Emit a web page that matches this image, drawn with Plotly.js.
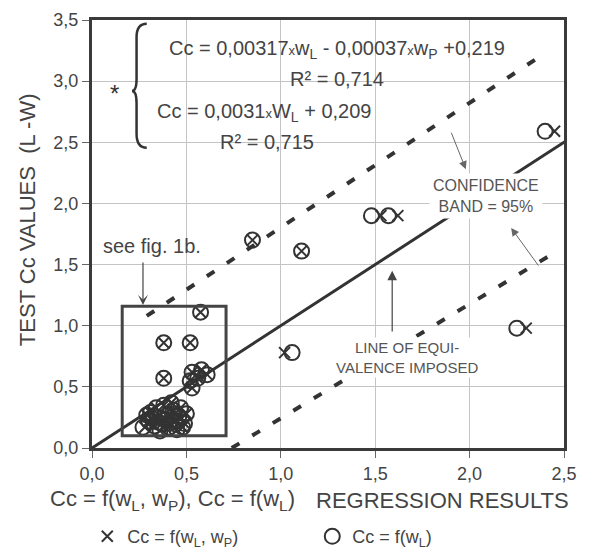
<!DOCTYPE html>
<html>
<head>
<meta charset="utf-8">
<script src="https://cdn.plot.ly/plotly-3.0.1.min.js"></script>
<style>html,body{margin:0;padding:0;background:#fff;}#chart{width:605px;height:554px;}</style>
</head>
<body>
<div id="chart"></div>
<script>
// ---- data ----
// Open circles: Cc = f(wL)
const circleX = [0.575, 0.38, 0.52, 0.38, 0.53, 0.58, 0.61, 0.52, 0.56, 0.53,
  0.27, 0.30, 0.31, 0.33, 0.34, 0.35, 0.37, 0.38, 0.40, 0.41, 0.43, 0.44, 0.46, 0.47, 0.49, 0.50, 0.36, 0.42, 0.45, 0.32,
  0.39, 0.44, 0.48, 0.35, 0.41, 0.29,
  0.85, 1.11, 1.48, 1.57, 1.06, 2.40, 2.25];
const circleY = [1.11, 0.86, 0.86, 0.57, 0.62, 0.64, 0.60, 0.55, 0.57, 0.49,
  0.17, 0.22, 0.29, 0.18, 0.33, 0.25, 0.20, 0.35, 0.27, 0.17, 0.31, 0.22, 0.26, 0.33, 0.20, 0.28, 0.14, 0.37, 0.15, 0.24,
  0.23, 0.28, 0.17, 0.21, 0.20, 0.27,
  1.70, 1.61, 1.90, 1.90, 0.78, 2.59, 0.98];
// Crosses: Cc = f(wL, wP)
const crossX = [0.575, 0.38, 0.52, 0.38, 0.53, 0.58, 0.61, 0.52, 0.56, 0.53,
  0.28, 0.30, 0.31, 0.33, 0.34, 0.35, 0.37, 0.38, 0.40, 0.41, 0.43, 0.44, 0.46, 0.47, 0.49, 0.50, 0.36, 0.42, 0.45, 0.32,
  0.39, 0.44, 0.48, 0.35, 0.41, 0.29,
  0.85, 1.11, 1.53, 1.62, 1.02, 2.45, 2.30];
const crossY = circleY.slice();
// Line of equivalence and 95% confidence band
const equivX = [0, 2.55];
const equivY = [0, 2.55];
const upperBandX = [0.29, 2.41];
const upperBandY = [1.08, 3.24];
const lowerBandX = [0.74, 2.42];
const lowerBandY = [0.0, 1.57];
const xTicks = [0, 0.5, 1.0, 1.5, 2.0, 2.5];
const yTicks = [0, 0.5, 1.0, 1.5, 2.0, 2.5, 3.0, 3.5];

const FONT = "Liberation Sans, Arial, sans-serif";
const INK = "#333333";

const traces = [
  {x: equivX, y: equivY, mode: "lines", line: {color: INK, width: 3}, showlegend: false, hoverinfo: "skip"},
  {x: upperBandX, y: upperBandY, mode: "lines", line: {color: INK, width: 4, dash: "9px,15px"}, showlegend: false, hoverinfo: "skip"},
  {x: lowerBandX, y: lowerBandY, mode: "lines", line: {color: INK, width: 4, dash: "9px,15px"}, showlegend: false, hoverinfo: "skip"},
  {x: crossX, y: crossY, mode: "markers", name: "Cc = f(w<sub>L</sub>, w<sub>P</sub>)",
   marker: {symbol: "x-thin-open", size: 11, color: INK, line: {color: INK, width: 2}}},
  {x: circleX, y: circleY, mode: "markers", name: "Cc = f(w<sub>L</sub>)",
   marker: {symbol: "circle-open", size: 15, color: INK, line: {color: INK, width: 2}}}
];

const sx = "<span style='font-size:13px'>x</span>";
const arrowCol = "#666";

const layout = {
  width: 605, height: 554,
  margin: {l: 92, r: 41, t: 20, b: 106, autoexpand: false},
  paper_bgcolor: "#fff", plot_bgcolor: "#fff",
  separators: ",.",
  font: {family: FONT, color: INK},
  xaxis: {range: [0, 2.5], tickvals: xTicks, tickformat: ".1f", showline: true, mirror: true,
    linewidth: 3, linecolor: "#3a3a3a", ticks: "outside", ticklen: 7, tickcolor: "#666",
    gridcolor: "#c4c4c4", zeroline: false, tickfont: {size: 18, color: "#444"}, automargin: false},
  yaxis: {range: [0, 3.5], tickvals: yTicks, tickformat: ".1f", showline: true, mirror: true,
    linewidth: 3, linecolor: "#3a3a3a", ticks: "outside", ticklen: 7, tickcolor: "#666",
    gridcolor: "#c4c4c4", zeroline: false, tickfont: {size: 18, color: "#444"}, automargin: false},
  showlegend: true,
  legend: {orientation: "h", x: -0.01, xanchor: "left", y: -0.207, yanchor: "middle",
    entrywidth: 180, entrywidthmode: "pixels", font: {size: 18, color: "#444"}, bgcolor: "rgba(0,0,0,0)"},
  shapes: [
    {type: "rect", xref: "x", yref: "y", x0: 0.16, x1: 0.71, y0: 0.10, y1: 1.16, line: {color: "#444", width: 3}},
    {type: "path", xref: "x", yref: "y",
     path: "M 0.29,3.47 Q 0.236,3.47 0.236,3.36 L 0.236,3.02 Q 0.236,2.92 0.212,2.92 Q 0.236,2.92 0.236,2.82 L 0.236,2.57 Q 0.236,2.455 0.29,2.455",
     line: {color: INK, width: 2.5}}
  ],
  annotations: [
    {x: -0.135, y: 0.533, xref: "paper", yref: "paper", text: "TEST Cc VALUES  (L -W)", textangle: -90,
     showarrow: false, xanchor: "center", yanchor: "middle", font: {size: 22, color: "#444"}},
    {x: (297 - 92) / 473, y: -0.122, xref: "paper", yref: "paper", xanchor: "right", yanchor: "middle",
     text: "Cc = f(w<sub>L</sub>, w<sub>P</sub>), Cc = f(w<sub>L</sub>)", showarrow: false, font: {size: 22, color: "#444"}},
    {x: (314 - 92) / 473, y: -0.122, xref: "paper", yref: "paper", xanchor: "left", yanchor: "middle",
     text: "REGRESSION RESULTS", showarrow: false, font: {size: 22, color: "#444"}},
    {x: 1.30, y: 3.26, text: "Cc = 0,00317" + sx + "w<sub>L</sub> - 0,00037" + sx + "w<sub>P</sub> +0,219", showarrow: false, font: {size: 20, color: "#444"}},
    {x: 1.30, y: 3.02, text: "R² = 0,714", showarrow: false, font: {size: 20, color: "#444"}},
    {x: 0.91, y: 2.74, text: "Cc = 0,0031" + sx + "W<sub>L</sub> + 0,209", showarrow: false, font: {size: 20, color: "#444"}},
    {x: 0.925, y: 2.50, text: "R² = 0,715", showarrow: false, font: {size: 20, color: "#444"}},
    {x: 0.12, y: 2.90, text: "*", showarrow: false, font: {size: 24, color: INK}},
    {x: 0.32, y: 1.65, text: "see fig. 1b.", showarrow: false, font: {size: 20, color: "#444"}},
    {x: 0.27, y: 1.17, ax: 0.27, ay: 1.53, axref: "x", ayref: "y", text: "", showarrow: true,
     arrowhead: 3, arrowsize: 1.4, arrowwidth: 1.2, arrowcolor: "#444"},
    {x: 2.085, y: 2.06, text: "CONFIDENCE<br>BAND = 95%", showarrow: false, bgcolor: "#fff",
     borderpad: 3, font: {size: 16, color: "#555"}},
    {x: 1.98, y: 2.28, ax: 1.90, ay: 2.59, axref: "x", ayref: "y", text: "", showarrow: true,
     arrowhead: 2, arrowsize: 1.6, arrowwidth: 1, arrowcolor: arrowCol},
    {x: 2.22, y: 1.80, ax: 2.37, ay: 1.48, axref: "x", ayref: "y", text: "", showarrow: true,
     arrowhead: 2, arrowsize: 1.6, arrowwidth: 1, arrowcolor: arrowCol},
    {x: 1.67, y: 0.74, text: "LINE OF EQUI-<br>VALENCE IMPOSED", showarrow: false, bgcolor: "#fff",
     font: {size: 15, color: "#555"}},
    {x: 1.59, y: 1.45, ax: 1.59, ay: 0.94, axref: "x", ayref: "y", text: "", showarrow: true,
     arrowhead: 2, arrowsize: 1.6, arrowwidth: 1.2, arrowcolor: "#444"}
  ]
};

Plotly.newPlot("chart", traces, layout, {displayModeBar: false, staticPlot: true});
</script>
</body>
</html>
